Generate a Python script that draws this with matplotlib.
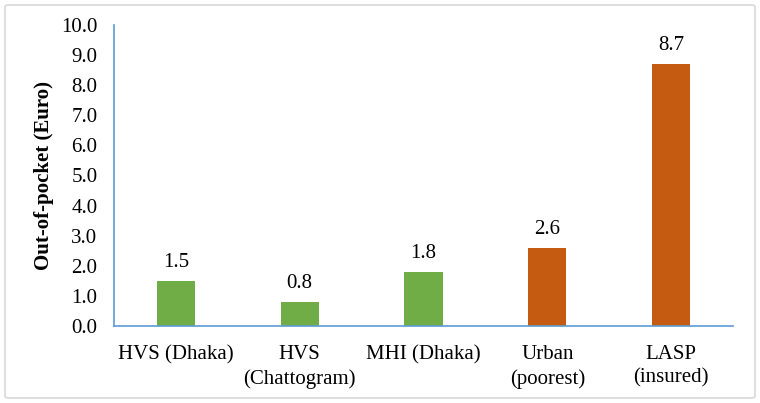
import matplotlib
matplotlib.use("Agg")
import matplotlib.pyplot as plt
from matplotlib.patches import FancyBboxPatch

categories = ["HVS (Dhaka)", "HVS\n(Chattogram)", "MHI (Dhaka)", "Urban\n(poorest)", "LASP\n(insured)"]
values = [1.5, 0.8, 1.8, 2.6, 8.7]
colors = ["#70AD47", "#70AD47", "#70AD47", "#C55A11", "#C55A11"]
yticks = [0, 1, 2, 3, 4, 5, 6, 7, 8, 9, 10]

plt.rcParams['font.family'] = ['Liberation Serif', 'DejaVu Serif']

fig = plt.figure(figsize=(7.6, 4.03), dpi=100)
ax = fig.add_axes([114/760, 1 - 326/403, (733-114)/760, (326-25)/403])

border = FancyBboxPatch((5/760, 5/403), 750/760, 393/403,
                        boxstyle="round,pad=0,rounding_size=0.005",
                        transform=fig.transFigure, fill=False,
                        edgecolor="#D9D9D9", linewidth=1.2)
fig.patches.append(border)

x = list(range(len(categories)))
ax.bar(x, values, width=0.31, color=colors)
for xi, v in zip(x, values):
    ax.text(xi, v + 0.3, f"{v:.1f}", ha="center", va="bottom", fontsize=15)

ax.set_xlim(-0.5, len(categories) - 0.5)
ax.set_ylim(0, 10)
ax.set_yticks(yticks)
ax.set_yticklabels([f"{t:.1f}" for t in yticks], fontsize=15)
ax.set_xticks(x)
ax.set_xticklabels(categories, fontsize=15, linespacing=1.3)
ax.tick_params(axis="x", length=0, pad=14)
ax.tick_params(axis="y", length=0, pad=12)

for s in ["top", "right"]:
    ax.spines[s].set_visible(False)
for s in ["left", "bottom"]:
    ax.spines[s].set_color("#5B9BD5")
    ax.spines[s].set_linewidth(1.2)

ax.set_ylabel("Out-of-pocket (Euro)", fontsize=15, fontweight="bold", labelpad=5)

fig.savefig("out.png", dpi=100)
